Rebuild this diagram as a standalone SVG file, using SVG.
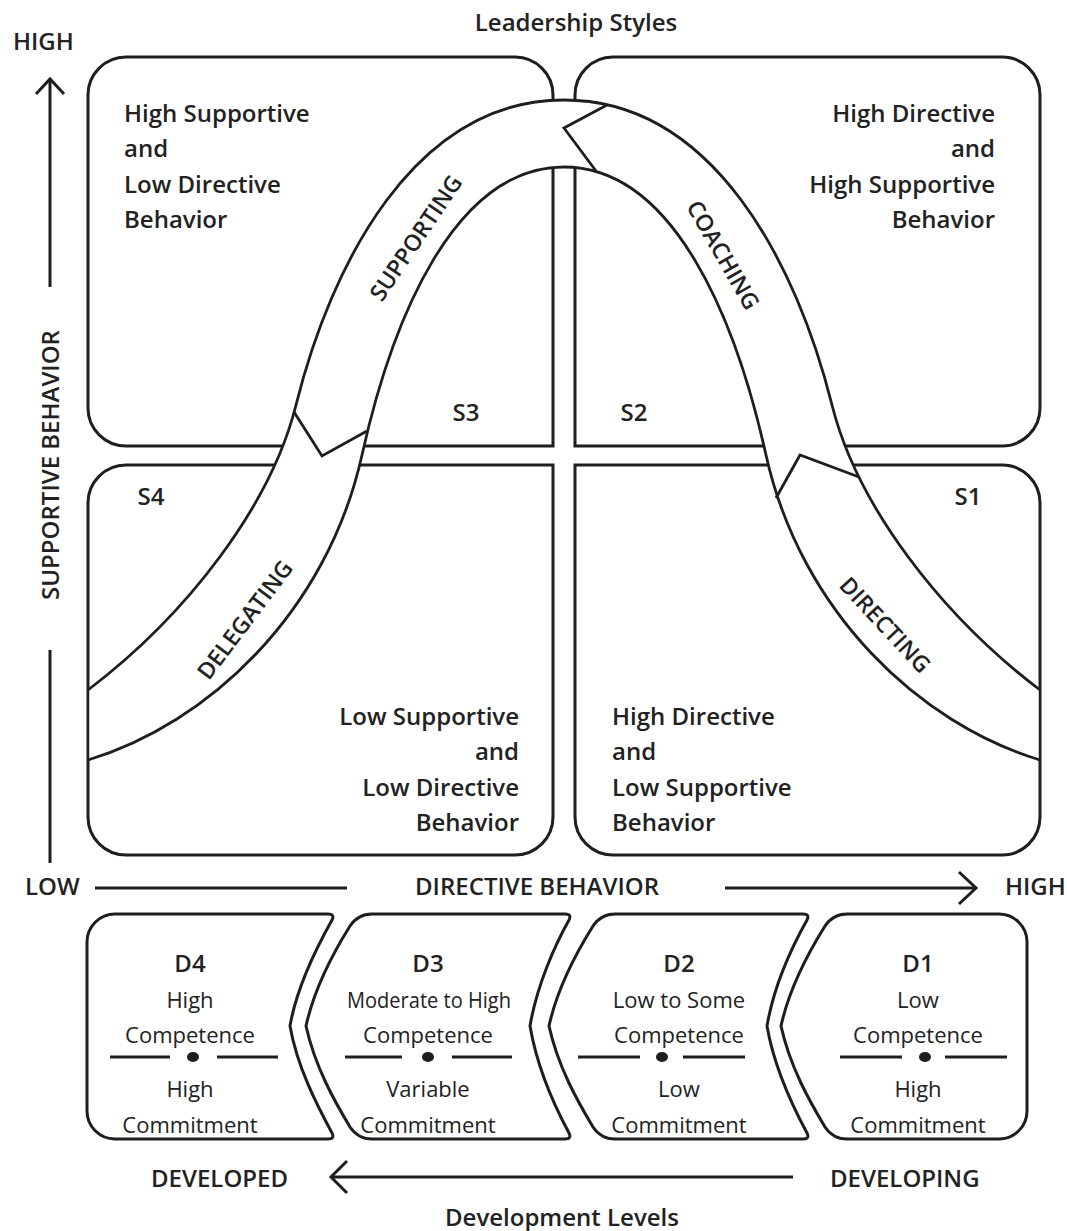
<svg xmlns="http://www.w3.org/2000/svg" width="1067" height="1231" viewBox="0 0 1067 1231">
<style>
.box{fill:#fff;stroke:#1e1e1e;stroke-width:3}
.bandfill{fill:#fff;stroke:none}
.band{fill:none;stroke:#1e1e1e;stroke-width:2.8;stroke-linejoin:miter}
.ln{fill:none;stroke:#1e1e1e;stroke-width:3}
.t{font-family:"Open Sans","Noto Sans","Liberation Sans",sans-serif;fill:#222}
.b{font-weight:600;font-size:24px}
.r{font-weight:400;font-size:22px}
.bl{font-weight:600;font-size:23px}
.m{text-anchor:middle}
.e{text-anchor:end}
.dot{fill:#1e1e1e}
</style>
<defs>
<clipPath id="inside"><rect x="89.5" y="0" width="949" height="1231"/></clipPath>
</defs>

<g id="axes">
<text class="t b m" x="576" y="31">Leadership Styles</text>
<text class="t b" x="13" y="50">HIGH</text>
<line class="ln" x1="50" y1="80" x2="50" y2="287"/>
<polyline class="ln" points="36,94 50,79 64,94"/>
<text class="t b m" transform="translate(50,465) rotate(-90)" x="0" y="8.5">SUPPORTIVE BEHAVIOR</text>
<line class="ln" x1="50" y1="650" x2="50" y2="863"/>
<text class="t b" x="25" y="895">LOW</text>
<line class="ln" x1="95" y1="888" x2="347" y2="888"/>
<text class="t b m" x="537" y="895">DIRECTIVE BEHAVIOR</text>
<line class="ln" x1="725" y1="888" x2="975" y2="888"/>
<polyline class="ln" points="959,872 976,888 959,904"/>
<text class="t b" x="1005" y="895">HIGH</text>
<text class="t b" x="151" y="1187">DEVELOPED</text>
<line class="ln" x1="332" y1="1177" x2="793" y2="1177"/>
<polyline class="ln" points="347,1161 331,1177 347,1193"/>
<text class="t b" x="830" y="1187">DEVELOPING</text>
<text class="t b m" x="562" y="1226">Development Levels</text>
</g>

<g id="quadrant-s3">
<path class="box" d="M88,95 A38,38 0 0 1 126,57 H515 A38,38 0 0 1 553,95 V446 H126 A38,38 0 0 1 88,408 Z"/>
<text class="t b" x="124" y="122">High Supportive</text>
<text class="t b" x="124" y="157">and</text>
<text class="t b" x="124" y="193">Low Directive</text>
<text class="t b" x="124" y="228">Behavior</text>
<text class="t b m" x="466" y="421">S3</text>
</g>
<g id="quadrant-s2">
<path class="box" d="M575,446 V95 A38,38 0 0 1 613,57 H1002 A38,38 0 0 1 1040,95 V408 A38,38 0 0 1 1002,446 Z"/>
<text class="t b e" x="995" y="122">High Directive</text>
<text class="t b e" x="995" y="157">and</text>
<text class="t b e" x="995" y="193">High Supportive</text>
<text class="t b e" x="995" y="228">Behavior</text>
<text class="t b m" x="634" y="421">S2</text>
</g>
<g id="quadrant-s4">
<path class="box" d="M88,503 A38,38 0 0 1 126,465 H553 V817 A38,38 0 0 1 515,855 H126 A38,38 0 0 1 88,817 Z"/>
<text class="t b m" x="151" y="505">S4</text>
<text class="t b e" x="519" y="725">Low Supportive</text>
<text class="t b e" x="519" y="760">and</text>
<text class="t b e" x="519" y="796">Low Directive</text>
<text class="t b e" x="519" y="831">Behavior</text>
</g>
<g id="quadrant-s1">
<path class="box" d="M575,465 H1002 A38,38 0 0 1 1040,503 V817 A38,38 0 0 1 1002,855 H613 A38,38 0 0 1 575,817 Z"/>
<text class="t b m" x="968" y="505">S1</text>
<text class="t b" x="612" y="725">High Directive</text>
<text class="t b" x="612" y="760">and</text>
<text class="t b" x="612" y="796">Low Supportive</text>
<text class="t b" x="612" y="831">Behavior</text>
</g>

<g id="connectors">
<path class="bandfill" clip-path="url(#inside)" d="M88,690 C188,614 271,505 296,405 C331,265 414,100 564,100 C714,100 797,265 832,405 C857,505 940,614 1040,690 L1040,760 C920,724 801,612.5 766,455 C736,320 674,167 564,167 C454,167 392,320 362,455 C327,612.5 208,724 88,760 Z"/>
<path class="band" d="M88,690 C188,614 271,505 296,405 C331,265 414,100 564,100 C714,100 797,265 832,405 C857,505 940,614 1040,690"/>
<path class="band" d="M88,760 C208,724 327,612.5 362,455 C392,320 454,167 564,167 C674,167 736,320 766,455 C801,612.5 920,724 1040,760"/>
<polyline class="band" points="294,412 322,456 367,431"/>
<polyline class="band" points="607,105 564,128 596,171"/>
<polyline class="band" points="776,498 800,455 859,477"/>
<text class="t bl m" transform="translate(416,238) rotate(-56)" x="0" y="8">SUPPORTING</text>
<text class="t bl m" transform="translate(723,255) rotate(60)" x="0" y="8">COACHING</text>
<text class="t bl m" transform="translate(245,620) rotate(-53)" x="0" y="8">DELEGATING</text>
<text class="t bl m" transform="translate(885,625) rotate(47)" x="0" y="8">DIRECTING</text>
</g>

<g id="level-d4">
<path class="box" d="M87,942 A28,28 0 0 1 115,914 H328 Q335,914 332,920 C318,945 297,985 290,1026 C297,1067 318,1107 332,1133 Q335,1139 328,1139 H115 A28,28 0 0 1 87,1111 Z"/>
<text class="t b m" x="190" y="972">D4</text>
<text class="t r m" x="190" y="1008">High</text>
<text class="t r m" x="190" y="1043">Competence</text>
<line class="ln" x1="110" y1="1057" x2="170" y2="1057"/>
<ellipse class="dot" cx="193" cy="1057" rx="6" ry="5"/>
<line class="ln" x1="217" y1="1057" x2="278" y2="1057"/>
<text class="t r m" x="190" y="1097">High</text>
<text class="t r m" x="190" y="1133">Commitment</text>
</g>
<g id="level-d3">
<path class="box" d="M372,914 H565 Q572,914 569,920 C555,945 537,985 530,1026 C537,1067 555,1107 569,1133 Q572,1139 565,1139 H372 Q358,1139 350,1127 C335,1102 315,1067 306,1026 C315,985 335,950 350,926 Q358,914 372,914 Z"/>
<text class="t b m" x="428" y="972">D3</text>
<text class="t r m" x="429" y="1008" textLength="164" lengthAdjust="spacingAndGlyphs">Moderate to High</text>
<text class="t r m" x="428" y="1043">Competence</text>
<line class="ln" x1="345" y1="1057" x2="402" y2="1057"/>
<ellipse class="dot" cx="428" cy="1057" rx="6" ry="5"/>
<line class="ln" x1="452" y1="1057" x2="512" y2="1057"/>
<text class="t r m" x="428" y="1097">Variable</text>
<text class="t r m" x="428" y="1133">Commitment</text>
</g>
<g id="level-d2">
<path class="box" d="M615,914 H803 Q810,914 807,920 C793,945 774,985 767,1026 C774,1067 793,1107 807,1133 Q810,1139 803,1139 H615 Q601,1139 593,1127 C578,1102 558,1067 549,1026 C558,985 578,950 593,926 Q601,914 615,914 Z"/>
<text class="t b m" x="679" y="972">D2</text>
<text class="t r m" x="679" y="1008">Low to Some</text>
<text class="t r m" x="679" y="1043">Competence</text>
<line class="ln" x1="578" y1="1057" x2="640" y2="1057"/>
<ellipse class="dot" cx="662" cy="1057" rx="6" ry="5"/>
<line class="ln" x1="683" y1="1057" x2="745" y2="1057"/>
<text class="t r m" x="679" y="1097">Low</text>
<text class="t r m" x="679" y="1133">Commitment</text>
</g>
<g id="level-d1">
<path class="box" d="M847,914 H999 A28,28 0 0 1 1027,942 V1111 A28,28 0 0 1 999,1139 H847 Q833,1139 825,1127 C810,1102 790,1067 781,1026 C790,985 810,950 825,926 Q833,914 847,914 Z"/>
<text class="t b m" x="918" y="972">D1</text>
<text class="t r m" x="918" y="1008">Low</text>
<text class="t r m" x="918" y="1043">Competence</text>
<line class="ln" x1="840" y1="1057" x2="902" y2="1057"/>
<ellipse class="dot" cx="925" cy="1057" rx="6" ry="5"/>
<line class="ln" x1="945" y1="1057" x2="1007" y2="1057"/>
<text class="t r m" x="918" y="1097">High</text>
<text class="t r m" x="918" y="1133">Commitment</text>
</g>
</svg>
